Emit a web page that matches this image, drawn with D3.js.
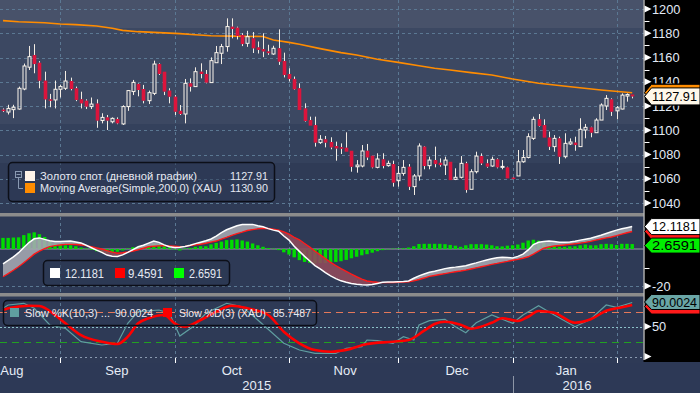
<!DOCTYPE html>
<html><head><meta charset="utf-8">
<script src="https://cdn.jsdelivr.net/npm/d3@7"></script>
<style>html,body{margin:0;padding:0;background:#2d3956;}svg{display:block;font-family:"Liberation Sans",Arial,sans-serif;}</style>
</head><body><svg id="c" width="700" height="393"></svg>
<script>
// ---------- DATA ----------
const openP  = [1117,1115,1117,1117.5,1134,1152,1162,1155.7,1140.9,1125.5, 1125,1133.8,1134.6,1140.6,1134.6,1125.5,1124.4,1119.5,1122,1108, 1110.6,1107,1109.3,1105.2,1119.5,1131.9,1138.2,1134,1124.4,1130.4, 1154.6,1148.3,1132.7,1127.7,1116,1113.4,1138.7,1136,1148.3,1146.4, 1139.3,1155.7,1163.5,1169,1185.4,1184.6,1178.6,1171.7,1175.8,1168.3, 1166.9,1165,1162.9,1167.6,1157.1,1146.4,1142.3,1134.6,1118,1108.4, 1104.3,1089.8,1092.5,1090.3,1087,1086,1085.6,1083.1,1069.9,1070.5, 1083.1,1079,1069.4,1076,1070.8,1072.1,1058.4,1064.4,1069.9,1053.5, 1062.3,1086.5,1070.8,1075.4,1073.2,1071.3,1074,1059.5,1061.2,1072.7, 1051.3,1065.8,1078.7,1072.7,1070.5,1076,1069.4,1069.4,1061,1062.3, 1074,1077.6,1093.3,1109,1104.3,1094,1086.5,1093.3,1078.2,1088.7, 1089.8,1086.5,1100.2,1102.4,1098,1108.4,1120,1125.5,1116,1117.5, 1128.2,1129.5];
const highP  = [1118,1121,1121,1136,1155,1169.5,1171,1157,1148.3,1130, 1141,1137.4,1148.9,1143.4,1136,1131.8,1125.5,1127,1125.5,1114, 1112.6,1110.6,1110.6,1120.6,1133.2,1141.5,1138.7,1137.4,1132.7,1157.4, 1155.2,1148.3,1134.6,1129,1120.8,1142.3,1142.8,1151.9,1155.2,1149.7, 1160.1,1169.5,1171.2,1192.3,1192.3,1185.4,1180,1182,1181,1173.2, 1180,1170.5,1169.7,1183.2,1164,1151.1,1144.3,1138.7,1122.2,1111.2, 1111.2,1096,1095.3,1094.2,1090.6,1089.2,1098.3,1083.1,1075.4,1087.8, 1088.7,1079,1081,1081,1074.9,1074.9,1070.5,1075.4,1072.1,1063.9, 1089.2,1087,1078.2,1086.5,1076.8,1078.2,1074,1068.6,1078.7,1074, 1067.8,1082.3,1080.9,1076,1078.2,1076.8,1075.4,1069.9,1061.5,1083.7, 1083.7,1097.5,1111.2,1113.4,1109,1098.9,1096,1094.7,1097.5,1093.3, 1094.7,1109.9,1105.2,1102.9,1109.9,1122.2,1129,1126.3,1120,1130.4, 1130.4,1129.5];
const lowP   = [1115,1113,1110,1117,1133,1149.7,1147,1134.6,1118,1119, 1118,1127,1133.2,1132.9,1124,1118,1117.5,1117.5,1102,1105.7, 1100.2,1105.7,1105,1104.4,1116,1129,1128,1122.2,1121.6,1129, 1145.6,1129,1122.2,1112.6,1112.6,1105.7,1131.9,1136,1142.8,1138.7, 1139.3,1155.7,1154.6,1164.8,1175.8,1174.9,1169.4,1168.8,1163.7,1163.3, 1160.3,1162.2,1162.2,1153.9,1143.6,1140.2,1133.3,1116.7,1107.1,1103.8, 1086.5,1088.7,1085.9,1084.3,1074.9,1080.4,1082.3,1065.8,1065,1069.4, 1075.4,1068.6,1068.6,1068.6,1070,1053.5,1053.5,1062.5,1050.7,1046.6, 1058.4,1067.8,1067.8,1069.4,1070,1063.1,1058.9,1058.9,1060.3,1048.5, 1051.3,1064.4,1071.3,1069.1,1069.9,1068.6,1067.8,1060.3,1059.5,1062.3, 1073.2,1076.8,1092,1103,1093.9,1083.7,1082.3,1072.2,1076.8,1087.8, 1083.1,1086.5,1093.3,1094.2,1098,1108.4,1116.7,1111.8,1109,1117.2, 1123.6,1126.3];
const closeP = [1116,1118,1119,1134.6,1153,1160.7,1154.6,1140.9,1125.5,1125, 1133.8,1136,1140.6,1134,1125,1122.2,1119.5,1121.6,1108,1110.6, 1108,1109.8,1105.7,1119.5,1132.7,1139.5,1133.2,1124.4,1131,1154.6, 1146.4,1131.9,1127.7,1115.3,1113.4,1138.7,1136,1148.3,1146.4,1139.3, 1157.4,1164,1169,1185.5,1183.5,1177.7,1171.1,1177.2,1167.6,1166.3, 1165,1163.6,1167.6,1156.6,1145.6,1142.3,1133.8,1116.7,1107.6,1103.8, 1089.8,1092.5,1089.8,1085.9,1085,1085.1,1082.3,1069.9,1071.3,1082.9, 1077.6,1069.4,1076.3,1070.5,1072.7,1056.8,1064.4,1069.4,1053.5,1062.3, 1087,1070.5,1075.4,1072.1,1071.3,1075.4,1058.9,1061.2,1072.7,1050.7, 1065.8,1078.7,1072.7,1070,1076,1069.4,1070.2,1060.3,1060.3,1074, 1077.6,1094.7,1109,1103.5,1093.9,1086.5,1093.3,1078.2,1089.2,1090.3, 1087.8,1100.8,1102.4,1098,1108.4,1120.8,1126.3,1115.3,1118.6,1129, 1129.5,1127.91];

const maIdx = [0,3,8,11,14,18,21,23,26,30,34,37,40,44,50,52,55,57,61,65,68,72,76,80,83,86,90,94,98,103,110,115,121];
const maVal = [1190.4,1189.5,1188.7,1187.6,1187.1,1186,1184.1,1182.4,1181.3,1180.5,1179.7,1178.8,1178,1177.6,1177.3,1174.4,1172.5,1170.9,1167.3,1164,1162,1158.5,1156,1153.2,1151.1,1149.7,1147.5,1145.6,1142.3,1138.7,1135.4,1133.2,1130.9];

const macdLine = [-8.0,-6.2,-4.3,-2.0,0.8,3.5,5.5,6.0,5.2,4.5, 4.1,4.1,4.2,4.3,3.8,3.3,2.0,0.7,-0.6,-1.8, -3.3,-3.9,-4.0,-3.2,-1.8,-0.3,1.2,2.0,3.2,4.3, 3.6,2.2,1.2,0.8,0.9,1.3,2.0,2.9,3.7,4.5, 5.4,7.0,8.8,10.4,11.5,12.6,13.2,13.3,13.3,12.6, 12.0,11.0,10.2,9.6,7.0,4.8,1.5,-1.3,-4.0,-6.5, -9.0,-10.8,-12.8,-14.5,-16.0,-17.2,-18.0,-18.6,-19.0,-19.3, -19.5,-19.2,-18.6,-18.0,-17.9,-17.8,-17.7,-17.6,-17.3,-15.8, -14.5,-13.5,-12.6,-12.0,-11.3,-10.6,-10.1,-9.8,-9.4,-9.0, -8.2,-7.5,-6.7,-6.0,-5.3,-4.7,-4.4,-4.6,-4.8,-4.0, -2.8,-0.5,2.4,3.6,4.1,4.3,4.0,3.6,3.6,3.8, 4.2,4.8,5.3,5.8,6.6,7.4,8.4,9.3,10.2,10.9, 11.5,12.12];
const signalLine = [-15.0,-13.3,-11.5,-9.6,-7.4,-5.1,-2.8,-1.1,0.2,1.3, 1.8,2.2,2.5,2.5,2.4,2.2,1.8,1.2,0.6,0.0, -0.9,-1.7,-2.3,-2.0,-1.6,-1.1,-0.4,0.4,1.2,1.5, 1.7,1.8,1.7,1.5,1.3,1.4,1.8,2.2,2.6,3.1, 3.7,4.3,5.3,6.3,7.4,8.3,9.1,10.0,10.5,10.9, 11.2,11.1,10.7,10.2,9.3,8.0,6.3,5.0,3.0,1.0, -1.2,-3.2,-5.2,-7.2,-9.0,-10.6,-12.1,-13.6,-15.0,-16.3, -17.3,-17.7,-18.0,-18.2,-18.2,-18.1,-18.0,-17.9,-17.7,-17.2, -16.5,-15.7,-14.8,-14.3,-13.8,-13.3,-12.8,-12.3,-11.9,-11.4, -10.8,-10.2,-9.6,-9.0,-8.3,-7.8,-7.2,-6.7,-6.1,-5.6, -5.0,-4.2,-2.8,-1.2,0.4,1.1,1.6,1.9,2.2,2.5, 2.8,3.2,3.6,4.1,4.8,5.4,6.0,6.5,7.2,8.0, 8.8,9.46];
const histBars = [6.0,6.0,6.2,6.3,7.5,8.5,9.0,8.0,6.5,4.5, 3.0,2.5,2.0,2.0,1.5,0.8,0.3,-0.5,-1.2,-1.8, -2.2,-2.0,-1.5,-0.8,0.3,1.0,1.3,1.5,1.8,3.0, 2.5,1.5,0.8,-0.3,-0.8,0.3,0.5,1.2,1.5,1.5, 2.5,3.3,4.0,4.8,5.0,5.2,4.6,4.0,3.0,2.0, 1.2,0.5,0.2,-0.6,-1.8,-3.0,-4.5,-6.0,-7.0,-7.5, -7.8,-7.6,-7.6,-7.3,-7.0,-6.6,-5.9,-5.0,-4.2,-3.4, -2.8,-2.0,-1.2,-0.6,-0.2,0.2,0.3,0.4,0.8,1.5, 2.7,2.8,2.8,2.8,2.8,2.6,2.2,1.8,1.2,2.0, 2.6,2.6,2.6,2.4,2.0,1.5,1.4,1.8,2.0,2.4, 3.4,4.6,5.0,4.5,3.5,2.4,1.8,1.2,1.2,1.4, 1.5,2.0,2.4,2.0,2.0,2.6,2.8,2.6,2.2,2.8, 2.8,2.66];

const kIdx = [0,1,4,6,9,12,15,19,22,24,26,30,32,34,37,39,43,46,49,54,57,60,64,66,69,70,72,75,77,79,80,82,85,87,89,91,94,98,100,103,106,110,113,116,118,121];
const kVal = [80.3,85.8,88.7,80.3,52.5,47,24.7,19.2,22,55.3,74.7,77.5,72,34.2,52.5,72,88.7,83,60.8,22,10.8,5.3,5.3,13.7,16.3,27.5,26.3,22,33,27.5,52.5,59.7,62,49.7,39.7,56.3,69.2,55.3,69.2,84.7,69.2,49.7,62,85.8,82,90.0];
const dIdx = [0,1,5,7,10,12,15,19,22,24,26,28,31,33,35,38,41,44,47,51,54,57,60,63,66,70,75,78,81,83,85,88,90,94,96,99,101,103,106,110,113,116,119,121];
const dVal = [77,80.3,84.7,84.2,69.2,55.3,35.8,24.7,20.8,33,55.3,63.7,69.2,55.3,49.7,60.8,74.7,84.7,80.3,69.2,41.3,22,10.8,8,11,20.8,24.7,27.5,43,54.2,58,53,46.3,56.3,63.7,59.2,66.3,75.8,73,56.3,62,76.3,82,85.75];

const monthIdx = [11,33,55,76,98,118];
const monthLabels = ["Aug","Sep","Oct","Nov","Dec","Jan"];
const monthLabelIdx = [1.7,21.9,44,65.8,87.3,108.3];
const yearLabels = ["2015","2016"];
const yearLabelIdx = [48.8,110.4];
const yearSepIdx = [98];
const priceTicks = [1040,1060,1080,1100,1120,1140,1160,1180,1200];
const priceMinor = [1050,1070,1090,1110,1130,1150,1170,1190];
const legendPrice = [["Золото спот (дневной график)","1127.91","#fff4ea",157],["Moving Average(Simple,200,0) (XAU)","1130.90","#ff8c00",182]];
const legendMacd = [["12.1181","#ffffff",39],["9.4591","#ff0000",35],["2.6591","#00ff00",33]];
const legendStoch = [["Slow %K(10,3) ...","90.0024","#5f9ea0",85],["Slow %D(3) (XAU)","85.7487","#ff0000",87]];

// ---------- SETUP ----------
const svg = d3.select("#c");
const R = 643.5;
const x = d3.scaleLinear().domain([0,121]).range([3,632.2]);
const yP = d3.scaleLinear().domain([1040,1200]).range([203,9]);
const yM = d3.scaleLinear().domain([-20,0]).range([286,249]);
const yS = d3.scaleLinear().domain([0,100]).range([356.5,296.5]);
const idx = d3.range(closeP.length);
const defs = svg.append("defs");

// backgrounds
svg.append("rect").attr("width",700).attr("height",393).attr("fill","#2d3956");
const bands = [[0,28,"#48526a"],[28,124,"#3c4862"],[124,163,"#34415c"],[163,213,"#2f3b56"]];
bands.forEach(b=>svg.append("rect").attr("x",0).attr("y",b[0]).attr("width",R).attr("height",b[1]-b[0]).attr("fill",b[2]));
svg.append("rect").attr("x",0).attr("y",213).attr("width",R).attr("height",150).attr("fill","#2e3a56");
svg.append("rect").attr("x",R).attr("y",0).attr("width",700-R).attr("height",362).attr("fill","#000");

const clip = (id,y0,y1)=>defs.append("clipPath").attr("id",id).append("rect").attr("x",0).attr("y",y0).attr("width",R).attr("height",y1-y0);
clip("cp",0,212); clip("cm",216.5,293); clip("cs",297,359);

// gridlines
const gcol = "#5b7893";
const g = svg.append("g");
[[0,212],[217,293],[297,358]].forEach(p=>{
  g.selectAll(null).data(monthIdx).join("line")
    .attr("x1",d=>Math.round(x(d))+0.5).attr("x2",d=>Math.round(x(d))+0.5)
    .attr("y1",p[0]).attr("y2",p[1]).attr("stroke",gcol).attr("stroke-dasharray","3,3");
});
g.selectAll(null).data(priceTicks).join("line")
  .attr("x1",0).attr("x2",R).attr("y1",d=>Math.round(yP(d))+0.5).attr("y2",d=>Math.round(yP(d))+0.5)
  .attr("stroke",gcol).attr("stroke-dasharray","3,3");

// ---------- PRICE PANEL ----------
const pp = svg.append("g").attr("clip-path","url(#cp)");
const bw = 3.6;
const wickCol = "#f3ede4";
pp.append("path").datum(maIdx.map((d,i)=>[d,maVal[i]]))
  .attr("d",d3.line().x(d=>x(d[0])).y(d=>yP(d[1])))
  .attr("fill","none").attr("stroke","#ff8c00").attr("stroke-width",1.6);
idx.forEach(i=>{
  const o=openP[i], c=closeP[i], h=highP[i], l=lowP[i];
  const cx = Math.round(x(i))+0.5;
  const top = yP(Math.max(o,c)), bot = yP(Math.min(o,c));
  pp.append("line").attr("x1",cx).attr("x2",cx).attr("y1",yP(h)).attr("y2",top).attr("stroke",wickCol).attr("stroke-width",1);
  pp.append("line").attr("x1",cx).attr("x2",cx).attr("y1",bot).attr("y2",yP(l)).attr("stroke",wickCol).attr("stroke-width",1);
  if (c >= o) {
    pp.append("rect").attr("x",cx-1.5).attr("y",top).attr("width",3).attr("height",Math.max(bot-top,1))
      .attr("fill","none").attr("stroke","#fbf5ec").attr("stroke-width",1);
  } else {
    pp.append("rect").attr("x",cx-bw/2).attr("y",top).attr("width",bw).attr("height",Math.max(bot-top,1.5))
      .attr("fill","#dc143c");
  }
});

// price legend
const lg = svg.append("g");
lg.append("rect").attr("x",8.5).attr("y",162.5).attr("width",266).attr("height",39).attr("rx",4)
  .attr("fill","#2c3853").attr("fill-opacity",0.5).attr("stroke","#0c0f18").attr("stroke-width",1.5);
lg.append("rect").attr("x",15.5).attr("y",171.5).attr("width",6).attr("height",6).attr("fill","none").attr("stroke","#8a9ab2");
lg.append("line").attr("x1",16.5).attr("x2",20.5).attr("y1",174.5).attr("y2",174.5).attr("stroke","#8a9ab2");
lg.append("path").attr("d","M18.5,177.5V188.5H23").attr("fill","none").attr("stroke","#8a9ab2");
legendPrice.forEach((r,k)=>{
  const cy = 176 + k*12;
  lg.append("rect").attr("x",25).attr("y",cy-5).attr("width",10).attr("height",10).attr("fill",r[2]);
  lg.append("text").attr("x",40).attr("y",cy+4).attr("fill","#e6e9f2").attr("font-size",11.5)
    .attr("textLength",r[3]).attr("lengthAdjust","spacingAndGlyphs").text(r[0]);
  lg.append("text").attr("x",230).attr("y",cy+4).attr("fill","#e6e9f2").attr("font-size",11.5)
    .attr("textLength",38).attr("lengthAdjust","spacingAndGlyphs").text(r[1]);
});

// ---------- MACD PANEL ----------
const mp = svg.append("g").attr("clip-path","url(#cm)");
mp.append("line").attr("x1",0).attr("x2",R).attr("y1",yM(0)).attr("y2",yM(0)).attr("stroke","#9a9ea6").attr("stroke-width",1);
mp.append("line").attr("x1",0).attr("x2",R).attr("y1",Math.round(yM(-20))+0.5).attr("y2",Math.round(yM(-20))+0.5).attr("stroke",gcol).attr("stroke-dasharray","3,3");
mp.selectAll(null).data(idx).join("rect")
  .attr("x",i=>x(i)-1.7).attr("width",3.4)
  .attr("y",i=>Math.min(yM(0),yM(histBars[i]))).attr("height",i=>Math.abs(yM(histBars[i])-yM(0)))
  .attr("fill","#00dd00");
defs.append("clipPath").attr("id","aboveSig").append("path")
  .attr("d",d3.area().x(i=>x(i)).y0(210).y1(i=>yM(signalLine[i]))(idx));
defs.append("clipPath").attr("id","belowSig").append("path")
  .attr("d",d3.area().x(i=>x(i)).y0(300).y1(i=>yM(signalLine[i]))(idx));
const between = d3.area().x(i=>x(i)).y0(i=>yM(macdLine[i])).y1(i=>yM(signalLine[i]));
mp.append("g").attr("clip-path","url(#aboveSig)").append("path").attr("d",between(idx)).attr("fill","#a6a9b3").attr("fill-opacity",0.88);
mp.append("g").attr("clip-path","url(#belowSig)").append("path").attr("d",between(idx)).attr("fill","#8e4a5c").attr("fill-opacity",0.9);
mp.append("path").attr("d",d3.line().x(i=>x(i)).y(i=>yM(signalLine[i]))(idx)).attr("fill","none").attr("stroke","#ff1a1a").attr("stroke-width",1.4);
mp.append("path").attr("d",d3.line().x(i=>x(i)).y(i=>yM(macdLine[i]))(idx)).attr("fill","none").attr("stroke","#ffffff").attr("stroke-width",1.5);

const ml = svg.append("g");
ml.append("rect").attr("x",43.5).attr("y",260.5).attr("width",186).attr("height",25).attr("rx",4)
  .attr("fill","#2c3853").attr("fill-opacity",0.6).attr("stroke","#0c0f18").attr("stroke-width",1.5);
const mlx = [[50,65],[115,128],[174,189]];
legendMacd.forEach((r,k)=>{
  ml.append("rect").attr("x",mlx[k][0]).attr("y",268).attr("width",10).attr("height",10).attr("fill",r[1]);
  ml.append("text").attr("x",mlx[k][1]).attr("y",277.5).attr("fill","#e6e9f2").attr("font-size",12)
    .attr("textLength",r[2]).attr("lengthAdjust","spacingAndGlyphs").text(r[0]);
});

// ---------- STOCH PANEL ----------
const sp = svg.append("g").attr("clip-path","url(#cs)");
const hl = [[75,"#e4785a","7,5"],[50,"#8cc0c8","2,2"],[25,"#22a022","7,5"],[0,"#8a9ab0","2,3"]];
hl.forEach(h=>sp.append("line").attr("x1",0).attr("x2",R).attr("y1",Math.round(yS(h[0]))+0.5).attr("y2",Math.round(yS(h[0]))+0.5)
  .attr("stroke",h[1]).attr("stroke-dasharray",h[2]));
sp.append("path").datum(kIdx.map((d,i)=>[d,kVal[i]]))
  .attr("d",d3.line().x(d=>x(d[0])).y(d=>yS(d[1])))
  .attr("fill","none").attr("stroke","#5f9ea0").attr("stroke-width",1.2);
sp.append("path").datum(dIdx.map((d,i)=>[d,dVal[i]]))
  .attr("d",d3.line().curve(d3.curveMonotoneX).x(d=>x(d[0])).y(d=>yS(d[1])))
  .attr("fill","none").attr("stroke","#ff0000").attr("stroke-width",2.6);

const sl = svg.append("g");
sl.append("rect").attr("x",3.5).attr("y",300.5).attr("width",313).attr("height",25).attr("rx",4)
  .attr("fill","none").attr("stroke","#0c0f18").attr("stroke-width",1.5);
const slx = [[10,25,115],[163,179,273]];
legendStoch.forEach((r,k)=>{
  sl.append("rect").attr("x",slx[k][0]).attr("y",308).attr("width",9).attr("height",9).attr("fill",r[2]);
  sl.append("text").attr("x",slx[k][1]).attr("y",317).attr("fill","#e6e9f2").attr("font-size",11.5)
    .attr("textLength",r[3]).attr("lengthAdjust","spacingAndGlyphs").text(r[0]);
  sl.append("text").attr("x",slx[k][2]).attr("y",317).attr("fill","#e6e9f2").attr("font-size",11.5)
    .attr("textLength",38).attr("lengthAdjust","spacingAndGlyphs").text(r[1]);
});

// separators
svg.append("rect").attr("x",0).attr("y",213).attr("width",R).attr("height",3.5).attr("fill","#8c8c8c");
svg.append("rect").attr("x",0).attr("y",293).attr("width",R).attr("height",3.5).attr("fill","#8c8c8c");

// ---------- RIGHT AXIS ----------
const ax = svg.append("g");
ax.append("line").attr("x1",R+0.5).attr("x2",R+0.5).attr("y1",0).attr("y2",360).attr("stroke","#ffffff");
const tri = (y)=>ax.append("path").attr("d",`M${R+1},${y-3.5}L${R+1},${y+3.5}L${R+8},${y}Z`).attr("fill","#ffffff");
const lab = (y,t)=>ax.append("text").attr("x",652).attr("y",y).attr("dy","0.36em").attr("fill","#e2eaf6").attr("font-size",12.8).text(t);
priceTicks.filter(v=>v!==1120&&v!==1140).forEach(v=>{tri(yP(v)); lab(yP(v),v);});
priceTicks.filter(v=>v===1120||v===1140).forEach(v=>{tri(yP(v));});
priceMinor.forEach(v=>ax.append("line").attr("x1",R+1).attr("x2",R+6).attr("y1",Math.round(yP(v))+0.5).attr("y2",Math.round(yP(v))+0.5).attr("stroke","#fff"));
tri(yM(-20)); lab(yM(-20),"-20");
[-10].forEach(v=>ax.append("line").attr("x1",R+1).attr("x2",R+6).attr("y1",Math.round(yM(v))+0.5).attr("y2",Math.round(yM(v))+0.5).attr("stroke","#fff"));
tri(yS(50)); lab(yS(50),"50"); tri(yS(0));

// partially hidden axis labels 1140 / 1120 clipped to the visible part outside the tags
defs.append("clipPath").attr("id","c1140").append("rect").attr("x",644).attr("y",70).attr("width",56).attr("height",13.5);
defs.append("clipPath").attr("id","c1120").append("rect").attr("x",644).attr("y",105.5).attr("width",56).attr("height",14);
ax.append("text").attr("clip-path","url(#c1140)").attr("x",652).attr("y",yP(1140)).attr("dy","0.36em").attr("fill","#e2eaf6").attr("font-size",12.8).text("1140");
ax.append("text").attr("clip-path","url(#c1120)").attr("x",652).attr("y",yP(1120)).attr("dy","0.36em").attr("fill","#e2eaf6").attr("font-size",12.8).text("1120");

const tagShape = (cy,h,fill)=>ax.append("path").attr("d",`M${R+1},${cy}L${R+8},${cy-h/2}L700,${cy-h/2}L700,${cy+h/2}L${R+8},${cy+h/2}Z`)
    .attr("fill",fill).attr("stroke","#000").attr("stroke-width",1);
const tag = (cy,h,t,fill,tc)=>{
  tagShape(cy,h,fill);
  ax.append("text").attr("x",652).attr("y",cy).attr("dy","0.36em").attr("fill",tc).attr("font-size",12.8)
    .attr("textLength",45).attr("lengthAdjust","spacingAndGlyphs").text(t);
};
tagShape(yP(1130.9),17,"#ff8c00");
tag(yP(1127.91),17,"1127.91","#fff8ea","#000");
tagShape(yM(9.4591),16,"#ff1a1a");
tag(yM(12.1181),16,"12.1181","#ffffff","#000");
tag(yM(2.6591)+1.5,15,"2.6591","#00ee00","#000");
tagShape(yS(85.7487)+1.5,15,"#ff1a1a");
tag(yS(90.0024)-0.5,15,"90.0024","#6aa6a6","#000");

// ---------- BOTTOM AXIS ----------
const bx = svg.append("g");
bx.selectAll(null).data(monthIdx).join("line")
  .attr("x1",d=>Math.round(x(d))+0.5).attr("x2",d=>Math.round(x(d))+0.5).attr("y1",358).attr("y2",363).attr("stroke","#fff");
bx.selectAll(null).data(monthLabels).join("text")
  .attr("x",(d,i)=>x(monthLabelIdx[i])).attr("y",375).attr("text-anchor","middle")
  .attr("fill","#e6edf6").attr("font-size",13).text(d=>d);
bx.selectAll(null).data(yearLabels).join("text")
  .attr("x",(d,i)=>x(yearLabelIdx[i])).attr("y",390).attr("text-anchor","middle")
  .attr("fill","#e6edf6").attr("font-size",13).text(d=>d);
bx.selectAll(null).data(yearSepIdx).join("line")
  .attr("x1",d=>Math.round(x(d))+0.5).attr("x2",d=>Math.round(x(d))+0.5).attr("y1",376).attr("y2",393).attr("stroke","#8d96a6");
</script></body></html>
